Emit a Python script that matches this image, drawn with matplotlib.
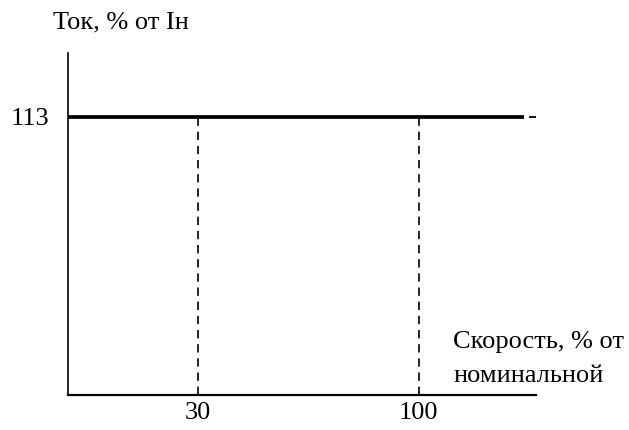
import matplotlib
matplotlib.use('Agg')
import matplotlib.pyplot as plt

plt.rcParams['font.family'] = ['Liberation Serif', 'DejaVu Serif']

# Данные графика
tok_nom = 113                 # ток, % от Iн
skorosti = [30, 100]          # отмеченные скорости, % от номинальной
x_linii = [0, 133.3]          # участок сплошной линии
x_shtrih = [135, 137.2]       # короткий штрих справа

fig = plt.figure(figsize=(6.29, 4.30), dpi=100)
ax = fig.add_axes([67.5 / 629, 1 - 395 / 430, (536 - 67.5) / 629, (395 - 53) / 430])
ax.set_xlim(-11.4, 137.2)
ax.set_ylim(0, 139)

# Основная линия тока
ax.plot([-11.4, x_linii[1]], [tok_nom, tok_nom], color='black', lw=2.7, solid_capstyle='butt')
ax.plot(x_shtrih, [tok_nom, tok_nom], color='black', lw=1.3, solid_capstyle='butt')

# Вертикальные штриховые линии
for s in skorosti:
    ax.plot([s, s], [0, tok_nom], color='black', lw=1.2, dashes=(5, 3.5))

for side in ['top', 'right']:
    ax.spines[side].set_visible(False)
ax.spines['left'].set_linewidth(1.2)
ax.spines['bottom'].set_linewidth(1.6)

ax.set_xticks(skorosti)
ax.set_xticklabels([str(s) for s in skorosti])
ax.set_yticks([tok_nom])
ax.set_yticklabels([str(tok_nom)])
ax.tick_params(axis='both', length=0, labelsize=19)
ax.tick_params(axis='x', pad=5)
ax.tick_params(axis='y', pad=13)

fig.text(53 / 629, 1 - 22 / 430, 'Ток, % от Iн', fontsize=19, va='center', ha='left')
fig.text(453 / 629, 1 - 348 / 430, 'Скорость, % от', fontsize=19, va='baseline', ha='left')
fig.text(453 / 629, 1 - 382 / 430, 'номинальной', fontsize=19, va='baseline', ha='left')

fig.savefig('out.png', dpi=100)
